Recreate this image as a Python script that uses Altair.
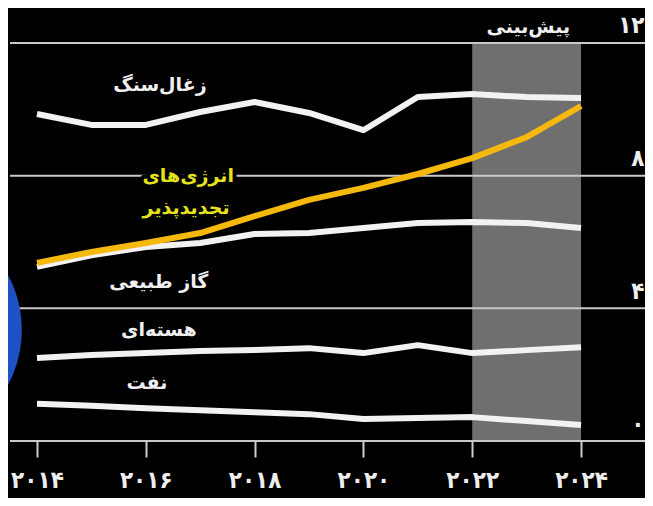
import altair as alt
import pandas as pd

# ---- data ----
years = list(range(2014, 2025))
coal = [9.86, 9.53, 9.53, 9.92, 10.22, 9.89, 9.37, 10.37, 10.46, 10.37, 10.34]
renewables = [5.37, 5.70, 5.97, 6.27, 6.78, 7.27, 7.63, 8.05, 8.53, 9.16, 10.10]
gas = [5.25, 5.60, 5.85, 5.97, 6.24, 6.27, 6.42, 6.57, 6.60, 6.57, 6.42]
nuclear = [2.50, 2.59, 2.65, 2.71, 2.74, 2.80, 2.65, 2.89, 2.65, 2.74, 2.83]
oil = [1.12, 1.06, 0.99, 0.93, 0.87, 0.81, 0.66, 0.69, 0.72, 0.60, 0.48]

x_ticks = [2014, 2016, 2018, 2020, 2022, 2024]
x_tick_labels = ["۲۰۱۴", "۲۰۱۶", "۲۰۱۸", "۲۰۲۰", "۲۰۲۲", "۲۰۲۴"]
y_ticks = [0, 4, 8, 12]
y_tick_labels = ["۰", "۴", "۸", "۱۲"]

forecast_start = [2022]
forecast_end = [2024]
forecast_top = 12

label_texts = ["زغال‌سنگ", "انرژی‌های", "تجدیدپذیر", "گاز طبیعی", "هسته‌ای", "نفت", "پیش‌بینی"]
label_years = [2016.26, 2016.78, 2016.74, 2016.24, 2016.24, 2016.02, 2023.03]
label_values = [10.73, 7.99, 7.03, 4.79, 3.35, 1.75, 12.48]
label_kind = ["white", "yellow", "yellow", "white", "white", "white", "white"]

# decorative disc at the left edge (centre in data units)
disc_year = [2011.59]
disc_value = [3.35]

# ---- tables ----
white_df = pd.concat([
    pd.DataFrame({"year": years, "value": coal, "series": "coal"}),
    pd.DataFrame({"year": years, "value": gas, "series": "gas"}),
    pd.DataFrame({"year": years, "value": nuclear, "series": "nuclear"}),
    pd.DataFrame({"year": years, "value": oil, "series": "oil"}),
])
yellow_df = pd.DataFrame({"year": years, "value": renewables})
band_df = pd.DataFrame({"start": forecast_start, "end": forecast_end,
                        "bottom": [0], "top": [forecast_top]})
grid_df = pd.DataFrame({"v": y_ticks})
labels_df = pd.DataFrame({"text": label_texts, "year": label_years,
                          "value": label_values, "kind": label_kind})
disc_df = pd.DataFrame({"year": disc_year, "value": disc_value})


def label_expr(vals, labs):
    expr = "''"
    for v, l in zip(reversed(vals), reversed(labs)):
        expr = f"datum.value == {v} ? '{l}' : ({expr})"
    return expr


FONT = "DejaVu Sans"
DIGIT_FONT = "DejaVu Sans Condensed, DejaVu Sans"
xscale = alt.Scale(domain=[2013.504, 2025.176], nice=False, zero=False)
yscale = alt.Scale(domain=[0, 13.055], nice=False, zero=False)

x_axis = alt.Axis(values=x_ticks, labelExpr=label_expr(x_ticks, x_tick_labels),
                  grid=False, domain=False, tickSize=16, tickWidth=2,
                  tickColor="#cfcfcf", labelFontSize=24, labelFont=DIGIT_FONT,
                  labelFontWeight="bold", labelColor="#eeeeee",
                  labelPadding=11, labelFlush=False, labelBound=False, title=None)
y_axis = alt.Axis(orient="right", values=y_ticks,
                  labelExpr=label_expr(y_ticks, y_tick_labels),
                  grid=False, domain=False, ticks=False,
                  labelAlign="right", labelPadding=-1,
                  labelBaseline="alphabetic", labelOffset=-10,
                  labelFontSize=24, labelFont=DIGIT_FONT, labelFontWeight="bold",
                  labelColor="#eeeeee", title=None)


def X(field):
    return alt.X(field, scale=xscale, axis=x_axis)


def Y(field):
    return alt.Y(field, scale=yscale, axis=y_axis)


band = alt.Chart(band_df).mark_rect(color="#6f6f6f").encode(
    x=X("start:Q"), x2="end:Q", y=Y("bottom:Q"), y2="top:Q",
)

grid = alt.Chart(grid_df).mark_rule(color="#c8c8c8", strokeWidth=2).encode(
    y=Y("v:Q"),
)

white_lines = alt.Chart(white_df).mark_line(
    color="#f2f2f2", strokeWidth=6, strokeJoin="round").encode(
    x=X("year:Q"), y=Y("value:Q"), detail="series:N",
)

yellow_line = alt.Chart(yellow_df).mark_line(
    color="#f5b80c", strokeWidth=6, strokeJoin="round").encode(
    x=X("year:Q"), y=Y("value:Q"),
)

disc = alt.Chart(disc_df).mark_point(
    shape="circle", filled=True, color="#1f50c4", opacity=1, size=53800).encode(
    x=X("year:Q"), y=Y("value:Q"),
)

halo = alt.Chart(labels_df).mark_text(
    font=FONT, fontSize=19, fontWeight="bold", align="center", baseline="middle",
    stroke="#000000", strokeWidth=8, color="#000000").encode(
    x=X("year:Q"), y=Y("value:Q"), text="text:N",
)

texts = alt.Chart(labels_df).mark_text(
    font=FONT, fontSize=19, fontWeight="bold", align="center", baseline="middle").encode(
    x=X("year:Q"), y=Y("value:Q"), text="text:N",
    color=alt.Color("kind:N", scale=alt.Scale(domain=["white", "yellow"],
                                              range=["#efefef", "#e4e21c"]),
                    legend=None),
)

chart = alt.layer(band, grid, white_lines, yellow_line, disc, halo, texts).properties(
    width=635, height=433,
    padding={"left": 2, "top": 0, "right": 0, "bottom": 57},
    autosize=alt.AutoSizeParams(type="none"),
    background="#000000",
).configure_view(strokeWidth=0)

chart.save("out.html", embed_options={"renderer": "svg", "actions": False})
